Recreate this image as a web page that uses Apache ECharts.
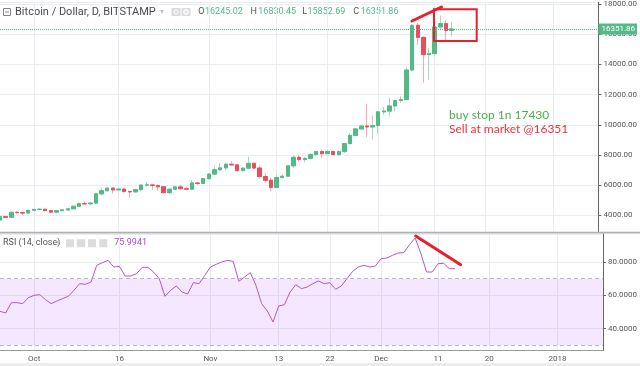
<!DOCTYPE html>
<html><head><meta charset="utf-8">
<script src="https://cdn.jsdelivr.net/npm/echarts@6/dist/echarts.min.js"></script>
<style>html,body{margin:0;padding:0;background:#fff}#c{width:640px;height:366px}</style>
</head><body><div id="c"></div>
<script>
// ---- data (daily BTC/USD, Bitstamp, 2017-09-25 .. 2017-12-14) ----
const firstDate = '2017-09-25';
const axisDays = 107; // axis runs to 2018-01-09
const open = [3700,3920,3880,4210,4190,4160,
  4340,4400,4410,4320,4220,4320,4370,4440,4610,4780,4770,4820,5430,5640,5810,5690,5750,5590,5560,5710,6010,6020,5980,5900,5510,5740,5890,5770,5740,6150,6120,
  6440,6740,7030,7150,7390,7350,6970,7130,7450,7140,6580,6330,5860,6510,6600,7290,7850,7700,7780,8040,8230,8090,8240,8030,8230,8760,9300,9730,9920,9860,
  9950,10860,10910,11250,11610,11670,13630,16590,15790,14650,14720,16480,16700,16245.02];
const high = [3960,3980,4240,4270,4210,4360,
  4410,4480,4440,4350,4360,4420,4460,4620,4880,4920,4880,5440,5860,5840,5850,5790,5770,5600,5720,6070,6190,6070,6050,5910,5780,5980,6030,5880,6340,6200,6470,
  6750,7330,7470,7490,7590,7400,7220,7890,7480,7300,6800,6500,6720,6730,7330,7960,8000,7860,8100,8300,8370,8300,8270,8340,8770,9460,9750,9970,11400,10640,
  10900,11190,11780,11620,11900,13800,16650,16750,15850,15100,16950,17250,16950,16830.45];
const low = [3650,3850,3870,4110,4010,4150,
  4290,4370,4260,4170,4150,4310,4320,4420,4550,4740,4730,4810,5380,5570,5450,5650,5510,5150,5540,5610,5900,5700,5650,5450,5400,5680,5720,5700,5690,6020,6100,
  6380,6730,6940,6980,7290,6950,6940,7050,7080,6450,6200,5600,5860,6440,6600,7130,7570,7510,7690,7950,7830,8080,8010,7950,8150,8700,9280,9680,9200,9050,
  9400,10690,10550,10900,11450,11650,13550,15300,12800,13000,14600,16300,15570,15852.69];
const close = [3920,3880,4210,4190,4160,4340,
  4400,4410,4320,4220,4320,4370,4440,4610,4780,4770,4820,5430,5640,5810,5690,5750,5590,5560,5710,6010,6020,5980,5900,5510,5740,5890,5770,5740,6150,6120,6440,
  6740,7030,7150,7390,7350,6970,7130,7450,7140,6580,6330,5860,6510,6600,7290,7850,7700,7780,8040,8230,8090,8240,8030,8230,8760,9300,9730,9920,9860,9950,
  10860,10910,11250,11610,11670,13630,16590,15790,14650,14720,16480,16700,16245.02,16351.86];
const rsi = [50.4,49.4,55.6,55.6,55.0,58.6,
  60.0,60.4,57.4,55.0,56.6,58.0,59.4,63.0,67.0,66.6,68.0,78.0,79.6,81.0,77.0,77.4,71.6,71.6,73.0,76.8,76.8,74.0,70.0,59.4,63.0,65.6,62.0,60.8,67.6,67.0,72.0,
  77.0,78.6,80.0,81.0,80.4,68.4,71.0,73.6,66.0,55.0,50.6,44.0,53.6,54.4,62.0,66.4,64.0,65.0,67.0,68.6,67.0,67.6,63.6,65.6,70.0,74.4,77.0,78.0,77.0,77.6,
  82.0,82.4,84.0,85.4,85.6,90.4,94.4,85.0,74.0,74.0,79.0,79.2,76.0,75.9941];
const tickDates = ['2017-10-01','2017-10-16','2017-11-01','2017-11-13','2017-11-22','2017-12-01','2017-12-11','2017-12-20','2018-01-01'];
const tickLabels = ['Oct','16','Nov','13','22','Dec','11','20','2018'];
const rsiBands = [70, 30];
const lastClose = close[close.length - 1];

// ---- build ----
const categories = [];
const d0 = new Date(firstDate + 'T00:00:00Z').getTime();
for (let i = 0; i < axisDays; i++) categories.push(new Date(d0 + i * 86400000).toISOString().slice(0, 10));
const tickMap = {};
tickDates.forEach((d, i) => tickMap[d] = tickLabels[i]);
const isTick = (idx, val) => tickMap[val] !== undefined;

const wickData = open.map((o, i) => [o, close[i], low[i], high[i]]);
const bodyData = open.map((o, i) => [o, close[i], Math.min(o, close[i]), Math.max(o, close[i])]);

const UP = '#53b987', DOWN = '#eb4d5c';
const GRID = '#e8edf3';
const LINE_GREEN = '#53b987';
const chart = echarts.init(document.getElementById('c'), null, {renderer: 'canvas'});
const txt = (x, y, text, font, fill) => ({type: 'text', x, y, style: {text, font, fill, verticalAlign: 'middle'}});
chart.setOption({
  animation: false,
  backgroundColor: '#ffffff',
  grid: [
    {left: 0, right: 37, top: 0, height: 232},
    {left: 0, right: 37, top: 234, height: 116.5}
  ],
  xAxis: [
    {type: 'category', gridIndex: 0, data: categories, boundaryGap: false,
     axisLine: {show: false}, axisTick: {show: false}, axisLabel: {show: false},
     splitLine: {show: true, interval: isTick, lineStyle: {color: GRID}}},
    {type: 'category', gridIndex: 1, data: categories, boundaryGap: false,
     axisLine: {show: true, lineStyle: {color: '#9a9a9a'}}, axisTick: {show: false},
     axisLabel: {show: true, interval: isTick, formatter: v => tickMap[v] || '',
                 fontSize: 8, color: '#555', margin: 4, fontFamily: 'Roboto'},
     splitLine: {show: true, interval: isTick, lineStyle: {color: GRID}}}
  ],
  yAxis: [
    {type: 'value', gridIndex: 0, position: 'right', min: 2905, max: 18118, splitNumber: 7,
     axisLine: {show: true, lineStyle: {color: '#666'}},
     axisTick: {show: true, length: 3, lineStyle: {color: '#666'}},
     axisLabel: {fontSize: 8, color: '#555', margin: 5, fontFamily: 'Roboto',
                 showMinLabel: false, showMaxLabel: false, formatter: v => v.toFixed(2)},
     splitLine: {show: true, lineStyle: {color: GRID}}},
    {type: 'value', gridIndex: 1, position: 'right', min: 26.9, max: 96.8, splitNumber: 4,
     axisLine: {show: true, lineStyle: {color: '#666'}},
     axisTick: {show: true, length: 3, lineStyle: {color: '#666'}},
     axisLabel: {fontSize: 8, color: '#555', margin: 5, fontFamily: 'Roboto',
                 showMinLabel: false, showMaxLabel: false, formatter: v => v.toFixed(4)},
     splitLine: {show: true, lineStyle: {color: GRID}}}
  ],
  series: [
    {type: 'candlestick', xAxisIndex: 0, yAxisIndex: 0, data: wickData, barWidth: '70%',
     itemStyle: {color: '#a9d8c2', color0: '#f5aab1', borderColor: '#a9d8c2', borderColor0: '#f5aab1', borderWidth: 1}},
    {type: 'candlestick', xAxisIndex: 0, yAxisIndex: 0, data: bodyData, barWidth: '70%',
     itemStyle: {color: UP, color0: DOWN, borderColor: UP, borderColor0: DOWN, borderWidth: 1},
     markLine: {symbol: 'none', silent: true, animation: false,
       lineStyle: {type: [1, 1], color: LINE_GREEN, width: 1, opacity: 1},
       label: {show: true, position: 'end', distance: 0, formatter: lastClose.toFixed(2),
               backgroundColor: UP, color: '#fff', fontSize: 8, fontFamily: 'Roboto', padding: [2, 2, 1, 3]},
       data: [{yAxis: lastClose, lineStyle: {type: [1, 1], color: LINE_GREEN, width: 1}}]}},
    {type: 'line', xAxisIndex: 1, yAxisIndex: 1, data: rsi, symbol: 'none',
     lineStyle: {color: '#b05ac6', width: 1},
     markArea: {silent: true, itemStyle: {color: 'rgba(153,21,255,0.10)'},
       data: [[{yAxis: rsiBands[0]}, {yAxis: rsiBands[1]}]]},
     markLine: {symbol: 'none', silent: true, label: {show: false},
       lineStyle: {type: [4, 3], color: '#b8b8b8', width: 1},
       data: rsiBands.map(v => ({yAxis: v}))}}
  ],
  graphic: [
    // title row
    {type: 'rect', shape: {x: 3.5, y: 8.5, width: 7, height: 7}, style: {fill: 'none', stroke: '#888', lineWidth: 1}},
    {type: 'line', shape: {x1: 5, y1: 12, x2: 9, y2: 12}, style: {stroke: '#888', lineWidth: 1}},
    txt(15, 12, 'Bitcoin / Dollar, D, BITSTAMP', '11px Roboto', '#4a4a4a'),
    txt(160, 12, '▾', '8px "DejaVu Sans"', '#c4c4c4'),
    {type: 'rect', shape: {x: 171.5, y: 8, width: 9, height: 8}, style: {fill: '#dcdcdc'}},
    {type: 'rect', shape: {x: 181.5, y: 8, width: 9, height: 8}, style: {fill: '#dcdcdc'}},
    {type: 'circle', shape: {cx: 176, cy: 12, r: 2}, style: {fill: 'none', stroke: '#fff', lineWidth: 1}},
    {type: 'circle', shape: {cx: 186, cy: 12, r: 2.2}, style: {fill: 'none', stroke: '#fff', lineWidth: 1.2}},
    txt(198.3, 12, 'O', '9px Roboto', '#555'),
    txt(205, 12, open[open.length - 1].toFixed(2), '9px Roboto', UP),
    txt(250.5, 12, 'H', '9px Roboto', '#555'),
    txt(258.3, 12, high[high.length - 1].toFixed(2), '9px Roboto', UP),
    txt(302.3, 12, 'L', '9px Roboto', '#555'),
    txt(307.5, 12, low[low.length - 1].toFixed(2), '9px Roboto', UP),
    txt(353.3, 12, 'C', '9px Roboto', '#555'),
    txt(360.7, 12, lastClose.toFixed(2), '9px Roboto', UP),
    // panel separator
    {type: 'rect', shape: {x: 0, y: 231.8, width: 640, height: 1.8}, style: {fill: '#b0b0b0'}, z: 10},
    // RSI legend
    txt(3, 243, 'RSI (14, close)', '9px Roboto', '#555'),
    txt(56, 243, '▾', '8px "DejaVu Sans"', '#c4c4c4'),
    {type: 'rect', shape: {x: 66, y: 239.3, width: 8, height: 8}, style: {fill: '#dcdcdc'}},
    {type: 'rect', shape: {x: 76.7, y: 239.3, width: 8.5, height: 8}, style: {fill: '#dcdcdc'}},
    {type: 'rect', shape: {x: 88, y: 239.3, width: 8, height: 8}, style: {fill: '#dcdcdc'}},
    {type: 'rect', shape: {x: 99.3, y: 239.3, width: 8, height: 8}, style: {fill: '#dcdcdc'}},
    txt(114.3, 243, rsi[rsi.length - 1].toFixed(4), '9px Roboto', '#a44fc0'),
    // annotations
    Object.assign(txt(449, 115, 'buy stop 1n 17430', '12px Lato', '#4cb04c'), {z: 20}),
    Object.assign(txt(449, 129.5, 'Sell at market @16351', '12px Lato', '#f0313b'), {z: 20}),
    {type: 'line', shape: {x1: 412, y1: 21, x2: 441.5, y2: 7}, style: {stroke: '#e8202a', lineWidth: 3, lineCap: 'round'}, z: 20},
    {type: 'rect', shape: {x: 434, y: 9.3, width: 42.7, height: 31.7}, style: {fill: 'none', stroke: '#e8202a', lineWidth: 2}, z: 20},
    {type: 'line', shape: {x1: 415.7, y1: 236, x2: 460.7, y2: 264.7}, style: {stroke: '#e8202a', lineWidth: 3, lineCap: 'round'}, z: 20},
    // bottom strip
    {type: 'rect', shape: {x: 0, y: 363, width: 640, height: 3}, style: {fill: '#ececec'}}
  ]
});
</script></body></html>
